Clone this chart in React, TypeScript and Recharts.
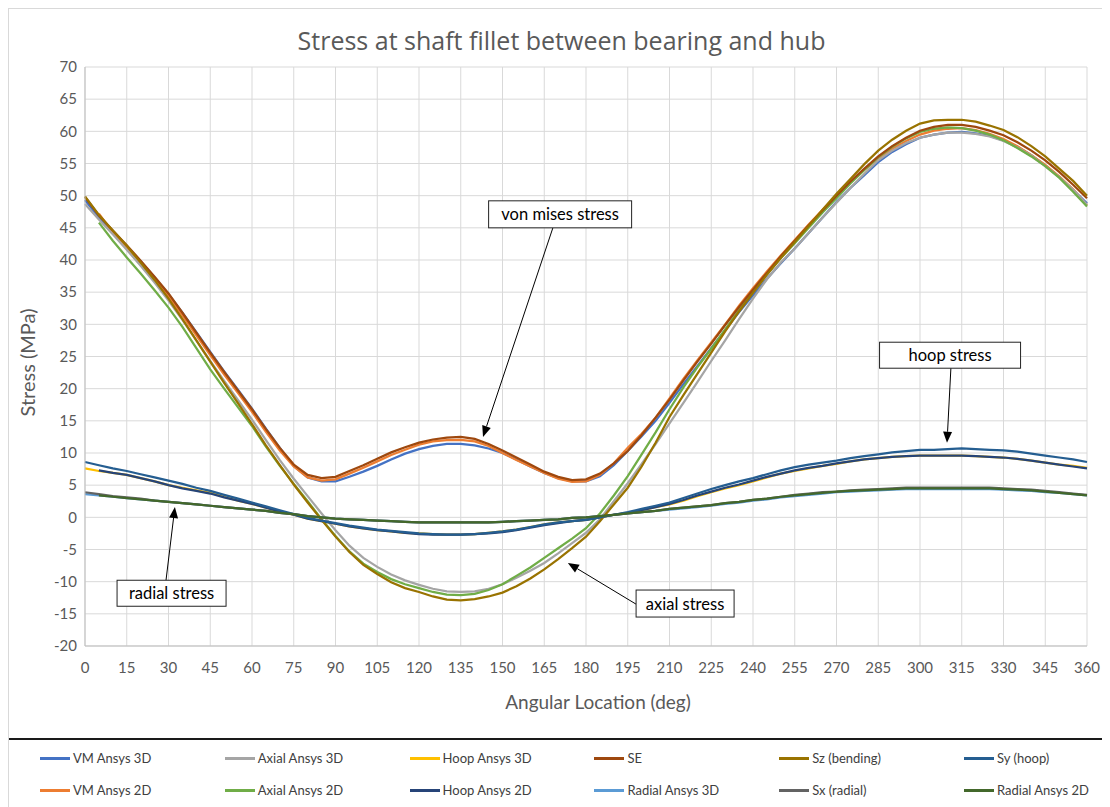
import React from "react"
import {
  LineChart,
  Line,
  XAxis,
  YAxis,
  CartesianGrid,
  ReferenceLine,
  ReferenceDot,
  Label,
} from "recharts"

const FONT = "Lato, 'Open Sans', sans-serif"

// angular location, deg
const angles = [
  0, 5, 10, 15, 20, 25, 30, 35, 40, 45, 50, 55,
  60, 65, 70, 75, 80, 85, 90, 95, 100, 105, 110, 115,
  120, 125, 130, 135, 140, 145, 150, 155, 160, 165, 170, 175,
  180, 185, 190, 195, 200, 205, 210, 215, 220, 225, 230, 235,
  240, 245, 250, 255, 260, 265, 270, 275, 280, 285, 290, 295,
  300, 305, 310, 315, 320, 325, 330, 335, 340, 345, 350, 355,
  360,
]

const xTicks = [0, 15, 30, 45, 60, 75, 90, 105, 120, 135, 150, 165, 180, 195, 210, 225, 240, 255, 270, 285, 300, 315, 330, 345, 360]
const yTicks = [-20, -15, -10, -5, 0, 5, 10, 15, 20, 25, 30, 35, 40, 45, 50, 55, 60, 65, 70]

const vmAnsys3d = [
  49.3, 46.6, 44.4, 42.1, 39.8, 37.3, 34.7, 31.8, 28.8, 25.7, 22.7, 19.8,
  16.9, 13.8, 10.8, 8.0, 6.2, 5.6, 5.6, 6.3, 7.1, 8.0, 9.0, 9.9,
  10.6, 11.1, 11.4, 11.4, 11.2, 10.7, 10.0, 9.0, 7.9, 6.9, 6.1, 5.6,
  5.6, 6.4, 8.1, 10.3, 12.6, 15.0, 17.8, 20.7, 23.5, 26.3, 29.1, 31.9,
  34.5, 37.1, 39.5, 41.8, 44.2, 46.6, 49.0, 51.2, 53.2, 55.2, 56.8, 58.0,
  59.0, 59.5, 59.8, 59.9, 59.7, 59.3, 58.6, 57.6, 56.3, 54.7, 52.9, 50.9,
  48.8,
]

const vmAnsys2d = [
  null, 47.2, 44.3, 42.0, 39.6, 37.0, 34.4, 31.4, 28.3, 25.2, 22.2, 19.3,
  16.4, 13.3, 10.4, 7.9, 6.2, 5.7, 5.9, 6.8, 7.7, 8.7, 9.7, 10.5,
  11.3, 11.8, 12.0, 12.05, 11.8, 11.1, 10.0, 8.9, 7.9, 6.9, 6.0, 5.5,
  5.6, 6.6, 8.4, 10.8, 13.0, 15.5, 18.5, 21.5, 24.4, 27.2, 30.0, 32.9,
  35.6, 38.2, 40.7, 43.1, 45.5, 47.8, 50.0, 52.1, 54.0, 55.8, 57.3, 58.5,
  59.5, 60.1, 60.4, 60.5, 60.2, 59.6, 58.8, 57.7, 56.3, 54.8, 53.0, 51.0,
  48.5,
]

const axialAnsys3d = [
  48.7, 46.3, 44.0, 41.6, 39.1, 36.5, 33.7, 30.7, 27.5, 24.3, 21.2, 18.2,
  15.2, 12.0, 8.9, 6.0, 3.3, 0.6, -2.0, -4.4, -6.3, -7.7, -8.9, -9.8,
  -10.5, -11.1, -11.5, -11.6, -11.5, -11.1, -10.4, -9.4, -8.3, -7.1, -5.6, -4.0,
  -2.4, -0.3, 2.5, 5.3, 8.3, 11.4, 14.6, 17.8, 21.0, 24.3, 27.5, 30.8,
  34.0, 37.0, 39.6, 41.8, 44.2, 46.6, 48.9, 51.2, 53.4, 55.5, 57.0, 58.2,
  59.0, 59.5, 59.8, 59.8, 59.6, 59.2, 58.5, 57.5, 56.2, 54.6, 52.9, 50.9,
  48.6,
]

const axialAnsys2d = [
  null, 45.8, 43.0, 40.4, 37.9, 35.3, 32.6, 29.6, 26.3, 23.0, 20.0, 17.1,
  14.2, 11.0, 8.0, 5.2, 2.5, -0.3, -2.9, -5.3, -7.2, -8.5, -9.6, -10.4,
  -11.0, -11.6, -12.0, -12.1, -11.9, -11.3, -10.4, -9.1, -7.8, -6.3, -4.8, -3.3,
  -1.7, 0.6, 3.4, 6.4, 9.8, 13.2, 16.8, 20.2, 23.3, 26.2, 29.2, 32.2,
  35.1, 37.8, 40.3, 42.6, 45.0, 47.4, 49.6, 51.9, 54.0, 56.0, 57.6, 58.9,
  59.9, 60.4, 60.6, 60.5, 60.1, 59.5, 58.6, 57.4, 56.1, 54.6, 52.8, 50.6,
  48.3,
]

const hoopAnsys3d = [
  7.6, 7.2, 6.9, 6.6, 6.1, 5.6, 5.0, 4.6, 4.2, 3.8, 3.2, 2.6,
  2.1, 1.5, 0.9, 0.4, -0.2, -0.6, -1.0, -1.4, -1.7, -2.0, -2.2, -2.4,
  -2.5, -2.6, -2.7, -2.7, -2.6, -2.4, -2.2, -1.9, -1.5, -1.1, -0.8, -0.6,
  -0.4, 0.0, 0.4, 0.7, 1.1, 1.6, 2.0, 2.6, 3.3, 3.9, 4.5, 5.0,
  5.6, 6.2, 6.8, 7.2, 7.6, 8.0, 8.3, 8.7, 9.0, 9.2, 9.4, 9.5,
  9.6, 9.6, 9.6, 9.6, 9.5, 9.4, 9.3, 9.1, 8.8, 8.5, 8.2, 8.0,
  7.7,
]

const hoopAnsys2d = [
  null, 7.3, 6.9, 6.6, 6.1, 5.6, 5.0, 4.5, 4.1, 3.7, 3.1, 2.6,
  2.1, 1.5, 0.9, 0.4, -0.2, -0.6, -1.0, -1.4, -1.7, -2.0, -2.2, -2.4,
  -2.6, -2.7, -2.7, -2.7, -2.6, -2.5, -2.3, -2.0, -1.6, -1.2, -0.9, -0.6,
  -0.4, 0.0, 0.4, 0.7, 1.1, 1.6, 2.1, 2.7, 3.4, 4.0, 4.6, 5.1,
  5.7, 6.3, 6.8, 7.3, 7.7, 8.0, 8.4, 8.7, 9.0, 9.2, 9.4, 9.5,
  9.6, 9.6, 9.6, 9.6, 9.5, 9.4, 9.3, 9.1, 8.8, 8.5, 8.2, 7.9,
  7.6,
]

const radialAnsys3d = [
  3.6, 3.4, 3.2, 3.0, 2.8, 2.6, 2.4, 2.2, 2.0, 1.8, 1.6, 1.4,
  1.2, 1.0, 0.7, 0.5, 0.2, 0.0, -0.2, -0.3, -0.4, -0.5, -0.6, -0.7,
  -0.8, -0.8, -0.8, -0.8, -0.8, -0.8, -0.7, -0.6, -0.5, -0.4, -0.3, -0.1,
  0.0, 0.2, 0.4, 0.6, 0.8, 1.0, 1.2, 1.4, 1.6, 1.8, 2.1, 2.3,
  2.6, 2.8, 3.1, 3.3, 3.5, 3.7, 3.9, 4.0, 4.1, 4.2, 4.3, 4.4,
  4.4, 4.4, 4.4, 4.4, 4.4, 4.4, 4.3, 4.2, 4.1, 3.9, 3.8, 3.6,
  3.4,
]

const radialAnsys2d = [
  null, 3.4, 3.2, 3.0, 2.8, 2.6, 2.4, 2.2, 2.0, 1.8, 1.6, 1.4,
  1.2, 1.0, 0.7, 0.5, 0.2, 0.0, -0.2, -0.3, -0.4, -0.5, -0.6, -0.7,
  -0.8, -0.8, -0.8, -0.8, -0.8, -0.8, -0.7, -0.6, -0.5, -0.4, -0.3, -0.1,
  0.0, 0.2, 0.4, 0.6, 0.8, 1.0, 1.3, 1.5, 1.7, 1.9, 2.2, 2.4,
  2.7, 2.9, 3.2, 3.4, 3.6, 3.8, 4.0, 4.1, 4.2, 4.3, 4.4, 4.5,
  4.5, 4.5, 4.5, 4.5, 4.5, 4.5, 4.4, 4.3, 4.2, 4.0, 3.8, 3.6,
  3.4,
]

const se = [
  49.8, 46.9, 44.6, 42.3, 39.9, 37.4, 34.8, 31.8, 28.7, 25.6, 22.6, 19.7,
  16.8, 13.7, 10.8, 8.2, 6.6, 6.1, 6.3, 7.2, 8.1, 9.1, 10.1, 10.9,
  11.6, 12.1, 12.4, 12.5, 12.2, 11.4, 10.4, 9.3, 8.2, 7.1, 6.3, 5.8,
  5.9, 6.8, 8.4, 10.3, 12.8, 15.5, 18.3, 21.3, 24.2, 27.0, 29.9, 32.7,
  35.4, 38.0, 40.6, 43.0, 45.4, 47.7, 50.0, 52.2, 54.2, 56.1, 57.7, 59.0,
  60.1, 60.7, 61.0, 61.0, 60.7, 60.1, 59.4, 58.3, 57.0, 55.5, 53.7, 51.7,
  49.6,
]

const szBending = [
  49.9, 47.0, 44.6, 42.2, 39.6, 36.9, 34.0, 30.8, 27.5, 24.2, 20.9, 17.7,
  14.5, 11.2, 8.1, 5.1, 2.3, -0.4, -3.0, -5.4, -7.4, -8.8, -10.1, -11.0,
  -11.6, -12.3, -12.8, -12.9, -12.7, -12.3, -11.7, -10.7, -9.5, -8.1, -6.5, -4.8,
  -3.0, -0.6, 2.0, 4.6, 7.9, 11.6, 15.6, 19.0, 22.3, 25.6, 28.9, 32.0,
  34.9, 37.7, 40.3, 42.8, 45.3, 47.8, 50.3, 52.6, 54.9, 57.0, 58.7, 60.1,
  61.2, 61.7, 61.8, 61.8, 61.5, 60.9, 60.2, 59.1, 57.7, 56.1, 54.2, 52.3,
  50.0,
]

const sxRadial = [
  3.9, 3.6, 3.3, 3.1, 2.9, 2.6, 2.4, 2.2, 2.0, 1.8, 1.6, 1.4,
  1.2, 1.0, 0.7, 0.5, 0.2, 0.0, -0.2, -0.3, -0.4, -0.5, -0.6, -0.7,
  -0.8, -0.8, -0.8, -0.8, -0.8, -0.8, -0.7, -0.6, -0.5, -0.4, -0.3, -0.1,
  0.0, 0.2, 0.4, 0.6, 0.8, 1.0, 1.3, 1.5, 1.7, 1.9, 2.2, 2.4,
  2.7, 2.9, 3.2, 3.5, 3.7, 3.9, 4.0, 4.2, 4.3, 4.4, 4.5, 4.6,
  4.6, 4.6, 4.6, 4.6, 4.6, 4.6, 4.5, 4.4, 4.3, 4.1, 3.9, 3.7,
  3.5,
]

const syHoop = [
  8.6, 8.1, 7.6, 7.2, 6.7, 6.2, 5.7, 5.2, 4.6, 4.1, 3.5, 2.9,
  2.3, 1.7, 1.1, 0.5, -0.1, -0.5, -0.9, -1.3, -1.6, -1.9, -2.1, -2.3,
  -2.5, -2.6, -2.7, -2.7, -2.6, -2.4, -2.2, -1.9, -1.5, -1.1, -0.8, -0.6,
  -0.4, 0.0, 0.4, 0.8, 1.3, 1.8, 2.3, 3.0, 3.7, 4.4, 5.0, 5.6,
  6.1, 6.7, 7.3, 7.8, 8.2, 8.5, 8.8, 9.2, 9.5, 9.8, 10.1, 10.3,
  10.5, 10.5, 10.6, 10.7, 10.6, 10.5, 10.4, 10.2, 9.9, 9.6, 9.3, 9.0,
  8.6,
]

// drawing order (later on top)
const series = [
  { key: "vm3d", name: "VM Ansys 3D", color: "#4472C4", values: vmAnsys3d },
  { key: "vm2d", name: "VM Ansys 2D", color: "#ED7D31", values: vmAnsys2d },
  { key: "axial3d", name: "Axial Ansys 3D", color: "#A5A5A5", values: axialAnsys3d },
  { key: "hoop3d", name: "Hoop Ansys 3D", color: "#FFC000", values: hoopAnsys3d },
  { key: "radial3d", name: "Radial Ansys 3D", color: "#5B9BD5", values: radialAnsys3d },
  { key: "axial2d", name: "Axial Ansys 2D", color: "#70AD47", values: axialAnsys2d },
  { key: "hoop2d", name: "Hoop Ansys 2D", color: "#264478", values: hoopAnsys2d },
  { key: "se", name: "SE", color: "#9E480E", values: se },
  { key: "sx", name: "Sx (radial)", color: "#636363", values: sxRadial },
  { key: "sz", name: "Sz (bending)", color: "#997300", values: szBending },
  { key: "sy", name: "Sy (hoop)", color: "#255E91", values: syHoop },
  { key: "radial2d", name: "Radial Ansys 2D", color: "#43682B", values: radialAnsys2d },
]

const legendRows = [
  ["vm3d", "axial3d", "hoop3d", "se", "sz", "sy"],
  ["vm2d", "axial2d", "hoop2d", "radial3d", "sx", "radial2d"],
]

const callouts = [
  { text: "von mises stress", box: [170.7, 47.1], w: 143, h: 27, from: [168.1, 45.0], to: [143.0, 12.5] },
  { text: "hoop stress", box: [310.8, 25.2], w: 141, h: 26, from: [311.1, 23.2], to: [309.7, 11.6] },
  { text: "radial stress", box: [31.1, -11.8], w: 109, h: 26, from: [29.1, -9.8], to: [32.3, 1.6] },
  { text: "axial stress", box: [215.6, -13.4], w: 98, h: 27, from: [198.0, -13.5], to: [173.5, -7.1] },
]

const data = angles.map((a, i) => {
  const row: any = { angle: a }
  series.forEach((s) => {
    row[s.key] = s.values[i]
  })
  return row
})

function Arrow(p: any) {
  const { x1, y1, x2, y2 } = p
  const ang = Math.atan2(y2 - y1, x2 - x1)
  const len = 11
  const hw = 4.5
  const bx = x2 - len * Math.cos(ang)
  const by = y2 - len * Math.sin(ang)
  const nx = -Math.sin(ang)
  const ny = Math.cos(ang)
  return (
    <g>
      <line x1={x1} y1={y1} x2={bx} y2={by} stroke="#000" strokeWidth={1} />
      <polygon
        points={`${x2},${y2} ${bx + nx * hw},${by + ny * hw} ${bx - nx * hw},${by - ny * hw}`}
        fill="#000"
      />
    </g>
  )
}

function calloutBox(text: string, w: number, h: number) {
  return (p: any) => (
    <g>
      <rect x={p.cx - w / 2} y={p.cy - h / 2} width={w} height={h} fill="#fff" stroke="#222" strokeWidth={1} />
      <text x={p.cx} y={p.cy} textAnchor="middle" dominantBaseline="central" fontFamily={FONT} fontSize={16.5} fill="#000">
        {text}
      </text>
    </g>
  )
}

export default function App() {
  return (
    <div style={{ position: "relative", width: 1101, height: 798, borderLeft: "1px solid #d9d9d9", borderTop: "1px solid #d9d9d9", background: "#fff" }}>
      <div style={{ position: "absolute", top: 14, left: 2, width: 1101, textAlign: "center", fontFamily: "'Open Sans', Lato, sans-serif", fontSize: 25, lineHeight: "34px", color: "#595959" }}>
        Stress at shaft fillet between bearing and hub
      </div>
      <LineChart width={1101} height={729} data={data} margin={{ top: 58, right: 23, left: 16, bottom: 42 }}>
        <CartesianGrid stroke="#d9d9d9" strokeWidth={1} />
        <XAxis
          dataKey="angle"
          type="number"
          domain={[0, 360]}
          ticks={xTicks}
          interval={0}
          height={50}
          tickLine={false}
          tickMargin={10}
          axisLine={{ stroke: "#bfbfbf" }}
          tick={{ fill: "#595959", fontSize: 15, fontFamily: FONT }}
        >
          <Label
            content={(p: any) => (
              <text x={p.viewBox.x + p.viewBox.width / 2 + 12} y={692} textAnchor="middle" dominantBaseline="central" fontFamily={FONT} fontSize={19} fill="#595959">
                Angular Location (deg)
              </text>
            )}
          />
        </XAxis>
        <YAxis
          type="number"
          domain={[-20, 70]}
          ticks={yTicks}
          interval={0}
          width={60}
          tickLine={false}
          axisLine={{ stroke: "#bfbfbf" }}
          tick={{ fill: "#595959", fontSize: 15, fontFamily: FONT }}
        >
          <Label
            content={(p: any) => (
              <text
                x={0}
                y={0}
                transform={`translate(18, ${p.viewBox.y + p.viewBox.height / 2 + 6}) rotate(-90)`}
                textAnchor="middle"
                dominantBaseline="central"
                fontFamily={FONT}
                fontSize={20}
                fill="#595959"
              >
                Stress (MPa)
              </text>
            )}
          />
        </YAxis>
        {series.map((s) => (
          <Line
            key={s.key}
            dataKey={s.key}
            name={s.name}
            stroke={s.color}
            strokeWidth={2.25}
            dot={false}
            activeDot={false}
            type="linear"
            isAnimationActive={false}
          />
        ))}
        {callouts.map((c) => (
          <ReferenceLine
            key={"a" + c.text}
            segment={[
              { x: c.from[0], y: c.from[1] },
              { x: c.to[0], y: c.to[1] },
            ]}
            ifOverflow="visible"
            shape={(p: any) => <Arrow {...p} />}
          />
        ))}
        {callouts.map((c) => (
          <ReferenceDot key={"b" + c.text} x={c.box[0]} y={c.box[1]} r={1} ifOverflow="visible" shape={calloutBox(c.text, c.w, c.h)} />
        ))}
      </LineChart>
      <div style={{ position: "absolute", top: 729, left: 0, width: 1101, borderTop: "2px solid #1a1a1a" }} />
      {legendRows.map((row, ri) => (
        <div key={ri} style={{ position: "absolute", top: 749 + ri * 32 - 10, left: 31, height: 20, display: "flex" }}>
          {row.map((k) => {
            const s = series.find((x) => x.key === k)!
            return (
              <div key={k} style={{ width: 184.8, display: "flex", alignItems: "center", height: 20 }}>
                <div style={{ width: 30, height: 3, background: s.color, marginRight: 3 }} />
                <span style={{ fontFamily: FONT, fontSize: 13, color: "#404040", whiteSpace: "nowrap" }}>{s.name}</span>
              </div>
            )
          })}
        </div>
      ))}
    </div>
  )
}
